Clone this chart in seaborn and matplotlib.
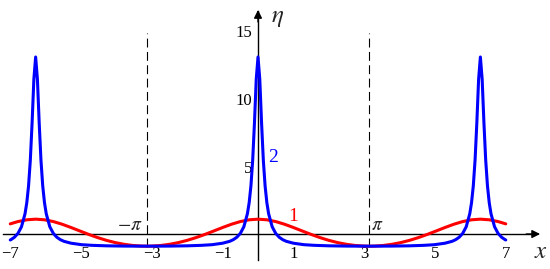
import matplotlib
matplotlib.use("Agg")
import matplotlib.pyplot as plt
import pandas as pd
import seaborn as sns

# curve 1 (red)
red_x = [-7.0, -6.783, -6.533, -6.283, -6.033, -5.783, -5.533, -5.283, -5.033,
         -4.783, -4.533, -4.283, -4.033, -3.783, -3.533, -3.283, -3.1416,
         -3.0, -2.75, -2.5, -2.25, -2.0, -1.75, -1.5, -1.25, -1.0, -0.75, -0.5,
         -0.25, 0.0, 0.25, 0.5, 0.75, 1.0, 1.25, 1.5, 1.75, 2.0, 2.25, 2.5,
         2.75, 3.0, 3.1416, 3.283, 3.533, 3.783, 4.033, 4.283, 4.533, 4.783,
         5.033, 5.283, 5.533, 5.783, 6.033, 6.283, 6.533, 6.783, 7.0]
red_y = [0.753, 0.923, 1.054, 1.10, 1.054, 0.923, 0.724, 0.483, 0.225,
         -0.029, -0.263, -0.467, -0.635, -0.762, -0.849, -0.893, -0.90,
         -0.893, -0.849, -0.762, -0.635, -0.467, -0.263, -0.029, 0.225, 0.483,
         0.724, 0.923, 1.054, 1.10, 1.054, 0.923, 0.724, 0.483, 0.225, -0.029,
         -0.263, -0.467, -0.635, -0.762, -0.849, -0.893, -0.90, -0.893, -0.849,
         -0.762, -0.635, -0.467, -0.263, -0.029, 0.225, 0.483, 0.724, 0.923,
         1.054, 1.10, 1.054, 0.923, 0.753]

# curve 2 (blue), sharp periodic peaks
blue_x = [-7.0, -6.983, -6.883, -6.783, -6.683, -6.583, -6.533, -6.483, -6.433,
          -6.383, -6.333, -6.283, -6.233, -6.183, -6.133, -6.083, -6.033,
          -5.983, -5.883, -5.783, -5.683, -5.583, -5.483, -5.283, -4.983,
          -4.683, -4.283, -3.783, -3.1416, -2.5, -2.0, -1.6, -1.3, -1.0, -0.8,
          -0.7, -0.6, -0.5, -0.4, -0.3, -0.25, -0.2, -0.15, -0.1, -0.05, 0.0,
          0.05, 0.1, 0.15, 0.2, 0.25, 0.3, 0.4, 0.5, 0.6, 0.7, 0.8, 1.0, 1.3,
          1.6, 2.0, 2.5, 3.1416, 3.783, 4.283, 4.683, 4.983, 5.283, 5.483,
          5.583, 5.683, 5.783, 5.883, 5.983, 6.033, 6.083, 6.133, 6.183, 6.233,
          6.283, 6.333, 6.383, 6.433, 6.483, 6.533, 6.583, 6.683, 6.783, 6.883,
          6.983, 7.0]
blue_y = [-0.44, -0.42, -0.24, 0.045, 0.54, 1.50, 2.32, 3.57, 5.48, 8.25, 11.47,
          13.11, 11.47, 8.25, 5.48, 3.57, 2.32, 1.50, 0.54, 0.045, -0.24, -0.42,
          -0.54, -0.68, -0.79, -0.838, -0.873, -0.893, -0.90, -0.893, -0.873,
          -0.838, -0.79, -0.68, -0.54, -0.42, -0.24, 0.045, 0.54, 1.50, 2.32,
          3.57, 5.48, 8.25, 11.47, 13.11, 11.47, 8.25, 5.48, 3.57, 2.32, 1.50,
          0.54, 0.045, -0.24, -0.42, -0.54, -0.68, -0.79, -0.838, -0.873,
          -0.893, -0.90, -0.893, -0.873, -0.838, -0.79, -0.68, -0.54, -0.42,
          -0.24, 0.045, 0.54, 1.50, 2.32, 3.57, 5.48, 8.25, 11.47, 13.11, 11.47,
          8.25, 5.48, 3.57, 2.32, 1.50, 0.54, 0.045, -0.24, -0.42, -0.44]

x_ticks = [-7, -5, -3, -1, 1, 3, 5, 7]
y_ticks = [5, 10, 15]
pi_marks = [-3.1416, 3.1416]

sns.set_style("white")
plt.rcParams["font.family"] = ["Liberation Serif", "DejaVu Serif"]
plt.rcParams["mathtext.fontset"] = "stix"

fig = plt.figure(figsize=(5.5, 2.69), dpi=100)
ax = fig.add_axes([0, 0, 1, 1])

df_red = pd.DataFrame({"x": red_x, "eta": red_y})
df_blue = pd.DataFrame({"x": blue_x, "eta": blue_y})
sns.lineplot(data=df_red, x="x", y="eta", color="#ff0000", lw=2.2,
             sort=False, estimator=None, ax=ax, zorder=3)
sns.lineplot(data=df_blue, x="x", y="eta", color="#0000ff", lw=2.2,
             sort=False, estimator=None, ax=ax, zorder=4)

for xp in pi_marks:
    ax.plot([xp, xp], [-0.95, 14.9], color="black", lw=0.8,
            ls=(0, (8, 4)), zorder=2)

ax.set_xlim(-7.29, 8.25)
ax.set_ylim(-2.59, 17.33)

for side in ["top", "right"]:
    ax.spines[side].set_visible(False)
ax.spines["left"].set_position(("data", 0))
ax.spines["bottom"].set_position(("data", 0))
ax.spines["left"].set_bounds(-1.93, 16.5)
ax.spines["bottom"].set_bounds(-7.2, 7.8)
for side in ["left", "bottom"]:
    ax.spines[side].set_linewidth(1.0)
    ax.spines[side].set_color("black")
ax.annotate("", xy=(8.05, 0), xytext=(7.5, 0),
            arrowprops=dict(arrowstyle="-|>", color="black", lw=1.0,
                            mutation_scale=12))
ax.annotate("", xy=(0, 16.8), xytext=(0, 15.5),
            arrowprops=dict(arrowstyle="-|>", color="black", lw=1.0,
                            mutation_scale=12))

ax.set_xticks(x_ticks)
ax.set_yticks(y_ticks)
ax.set_xticklabels([str(t).replace("-", "\u2212") for t in x_ticks])
ax.set_yticklabels([str(t) for t in y_ticks])
ax.tick_params(axis="both", direction="inout", length=5, width=0.8,
               labelsize=12, colors="black")
ax.tick_params(axis="x", pad=6)
ax.tick_params(axis="y", pad=1.5)
ax.set_xlabel("")
ax.set_ylabel("")

ax.text(8.0, -1.3, "$x$", fontsize=18, ha="center", va="center")
ax.text(0.55, 16.0, r"$\eta$", fontsize=18, ha="center", va="center")
ax.text(-3.25, 0.6, r"$-\pi$", fontsize=14, ha="right", va="center")
ax.text(3.2, 0.6, r"$\pi$", fontsize=14, ha="left", va="center")
ax.text(1.0, 1.3, "1", color="#ff0000", fontsize=14, ha="center", va="center")
ax.text(0.42, 5.7, "2", color="#0000ff", fontsize=14, ha="center", va="center")

fig.savefig("out.png", dpi=100)
